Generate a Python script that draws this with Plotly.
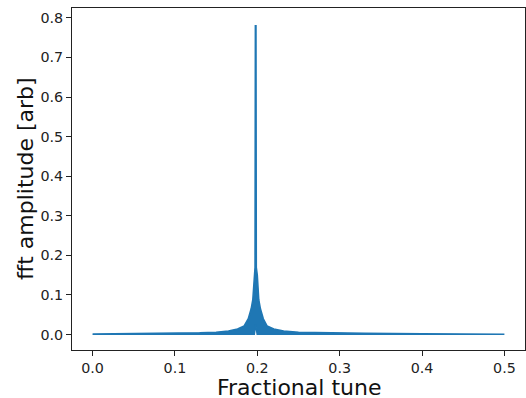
import plotly.graph_objects as go

# Upper envelope of the FFT amplitude
tune_upper = [0.0, 0.05, 0.10, 0.13, 0.15, 0.165, 0.176, 0.184, 0.189, 0.1925, 0.1945,
              0.1962, 0.1972, 0.1976, 0.1984, 0.1988, 0.2000, 0.2018, 0.2038, 0.2073,
              0.2118, 0.220, 0.232, 0.25, 0.28, 0.33, 0.40, 0.5]
amp_upper = [0.0015, 0.002, 0.003, 0.0045, 0.006, 0.009, 0.014, 0.022, 0.04, 0.065, 0.088,
             0.15, 0.17, 0.78, 0.78, 0.17, 0.15, 0.088, 0.065, 0.04,
             0.022, 0.014, 0.009, 0.006, 0.0045, 0.003, 0.002, 0.0015]

# Lower envelope of the FFT amplitude
tune_lower = [0.0, 0.1964, 0.1980, 0.1998, 0.5]
amp_lower = [0.0005, 0.0005, 0.025, 0.0005, 0.0005]

x_ticks = [0.0, 0.1, 0.2, 0.3, 0.4, 0.5]
y_ticks = [0.0, 0.1, 0.2, 0.3, 0.4, 0.5, 0.6, 0.7, 0.8]

color = "#1f77b4"
xs = tune_upper + tune_lower[::-1]
ys = amp_upper + amp_lower[::-1]

fig = go.Figure()
fig.add_trace(go.Scatter(x=xs, y=ys, mode="lines", fill="toself", fillcolor=color,
                         line=dict(color=color, width=1.5), hoverinfo="skip",
                         showlegend=False))

font_family = "DejaVu Sans"
axis_common = dict(showgrid=False, zeroline=False, showline=True, linecolor="#222",
                   linewidth=1, mirror=True, ticks="outside", ticklen=5, tickwidth=1,
                   tickcolor="#222", automargin=False,
                   tickfont=dict(family=font_family, size=14.3, color="#222"))

fig.update_xaxes(range=[-0.025, 0.525], tickvals=x_ticks,
                 ticktext=[f"{v:.1f}" for v in x_ticks], **axis_common)
fig.update_yaxes(range=[-0.039, 0.825], tickvals=y_ticks,
                 ticktext=[f"{v:.1f}" for v in y_ticks], **axis_common)

title_font = dict(family=font_family, size=22, color="#111")
fig.add_annotation(text="Fractional tune", xref="paper", yref="paper", x=0.5, y=0,
                   xanchor="center", yanchor="top", yshift=-24, showarrow=False,
                   borderpad=0, font=title_font)
fig.add_annotation(text="fft amplitude [arb]", xref="paper", yref="paper", x=0, y=0.5,
                   xanchor="center", yanchor="middle", xshift=-47, textangle=-90,
                   showarrow=False, font=title_font)

fig.update_layout(width=526, height=398, margin=dict(l=72, r=1, t=8, b=48),
                  plot_bgcolor="white", paper_bgcolor="white")

fig.write_html("out.html")
